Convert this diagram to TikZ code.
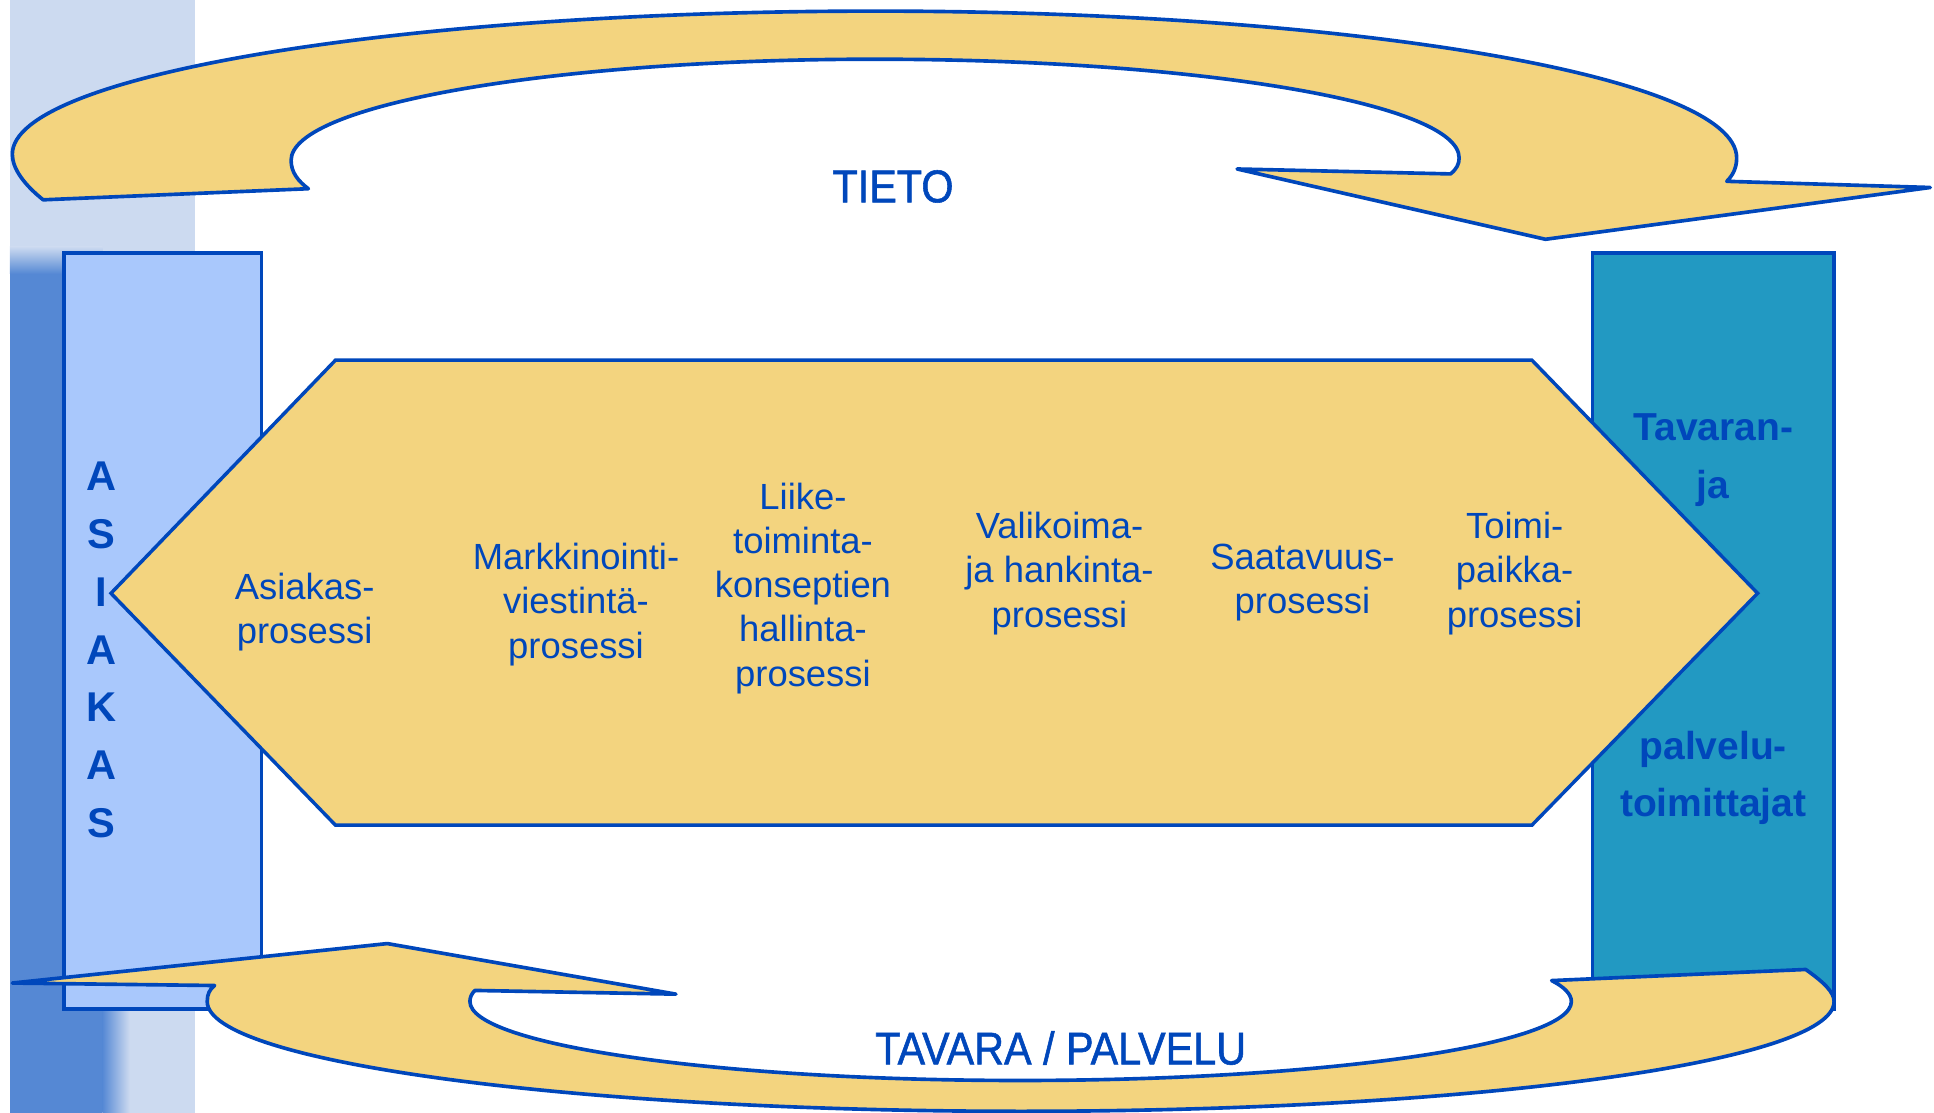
\documentclass[tikz,border=0pt]{standalone}
\usepackage{fontspec}
\setmainfont{Liberation Sans}
\newfontfamily\condensed[FakeStretch=0.9, FakeBold=1.2]{Liberation Sans}

\definecolor{lineblue}{RGB}{0,71,187}
\definecolor{sand}{RGB}{243,212,127}
\definecolor{skyblue}{RGB}{169,200,252}
\definecolor{tealblue}{RGB}{34,153,194}
\definecolor{paleblue}{RGB}{204,218,240}
\definecolor{midblue}{RGB}{85,136,212}

\begin{document}
\begin{tikzpicture}[x=0.25mm, y=-0.25mm,
		panel/.style={draw=lineblue, line width=2pt},
		band/.style={draw=lineblue, fill=sand, line width=2.1pt, line join=round},
		proc/.style={text=lineblue, align=center, font=\fontsize{21}{25.5}\selectfont},
		party/.style={text=lineblue, align=center, font=\fontsize{22.5}{33}\selectfont\bfseries},
		flow/.style={text=lineblue, anchor=base, font=\condensed\fontsize{26.5}{30}\selectfont}
]
\useasboundingbox (0,0) rectangle (1568,902);

% background stripe
\fill[paleblue] (8,0) rectangle (158,902);
\fill[midblue] (8,222) rectangle (83,902);
\shade[top color=paleblue, bottom color=midblue] (8,200) rectangle (83,222);
\shade[left color=midblue, right color=paleblue] (83,818) rectangle (105,902);

% customer and supplier columns
\draw[panel, fill=skyblue] (52,205) rectangle (212,818);
\draw[panel, fill=tealblue] (1291,205) rectangle (1487,818);

% process chain
\draw[panel, fill=sand] (90,481) -- (272,292) -- (1242,292) -- (1425,481)
	-- (1242,669) -- (272,669) -- cycle;

% information flow
\draw[band] (35,162) .. controls (20,150) and (10,137) .. (10,125)
	.. controls (10,61) and (324,9) .. (710,9)
	.. controls (1095,9) and (1408,62) .. (1408,128)
	.. controls (1408,136) and (1405,142) .. (1400,147)
	-- (1565,152) -- (1253,194) -- (1003,137) -- (1176,141)
	.. controls (1181,137) and (1183,133) .. (1183,128)
	.. controls (1183,84) and (971,48) .. (709,48)
	.. controls (448,48) and (236,85) .. (236,130)
	.. controls (236,140) and (242,147) .. (250,153) -- cycle;

% goods flow
\draw[band] (10,797) -- (314,765) -- (548,806) -- (385,803)
	.. controls (382,806) and (381,809) .. (381,812)
	.. controls (381,847) and (581,876) .. (827,876)
	.. controls (1074,876) and (1274,847) .. (1274,812)
	.. controls (1274,806) and (1268,800) .. (1258,795)
	-- (1464,786)
	.. controls (1478,796) and (1487,804) .. (1487,812)
	.. controls (1487,861) and (1193,901) .. (828,901)
	.. controls (465,901) and (168,861) .. (168,812)
	.. controls (168,806) and (170,802) .. (174,799) -- cycle;

\node[flow] (tieto) at (724,164) {TIETO};
\node[flow] (tavara) at (860,863) {TAVARA / PALVELU};

\node[party, font=\fontsize{24}{33.3}\selectfont\bfseries] (asiakas) at (82,527) {A\\S\\I\\A\\K\\A\\S};
\node[party] (tavaran) at (1389,373) {Tavaran-\\ja};
\node[party] (palvelu) at (1389,631) {palvelu-\\toimittajat};

\node[proc] (asiakasp) at (247,496) {Asiakas-\\prosessi};
\node[proc] (markkinointi) at (467,490) {Markkinointi-\\viestintä-\\prosessi};
\node[proc] (liike) at (651,477) {Liike-\\toiminta-\\konseptien\\hallinta-\\prosessi};
\node[proc] (valikoima) at (859,465) {Valikoima-\\ja hankinta-\\prosessi};
\node[proc] (saatavuus) at (1056,472) {Saatavuus-\\prosessi};
\node[proc] (toimipaikka) at (1228,465) {Toimi-\\paikka-\\prosessi};

\end{tikzpicture}
\end{document}
